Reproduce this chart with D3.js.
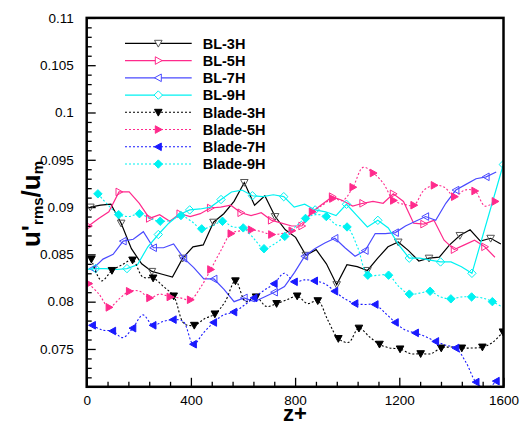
<!DOCTYPE html>
<html>
<head>
<meta charset="utf-8">
<script src="https://cdn.jsdelivr.net/npm/d3@7"></script>
<style>
  body { margin: 0; background: #fff; }
  svg { display: block; font-family: "Liberation Sans", Arial, Helvetica, sans-serif; }
</style>
</head>
<body>
<svg id="chart" width="529" height="426"></svg>
<script>
// ---- data: u'rms/um sampled along z+ ----
const bl3H = [0.0900,0.0902,0.0903,0.0883,0.0856,0.0840,0.0832,0.0829,0.0826,0.0846,
              0.0858,0.0860,0.0884,0.0893,0.0906,0.0926,0.0902,0.0912,0.0890,0.0876,
              0.0868,0.0849,0.0855,0.0840,0.0818,0.0839,0.0837,0.0833,0.0846,0.0858,
              0.0863,0.0854,0.0843,0.0846,0.0847,0.0860,0.0870,0.0876,0.0864,0.0867,
              0.0861];
const bl5H = [0.0880,0.0888,0.0895,0.0916,0.0916,0.0904,0.0888,0.0892,0.0885,0.0893,
              0.0890,0.0893,0.0899,0.0900,0.0902,0.0894,0.0891,0.0894,0.0886,0.0883,
              0.0880,0.0880,0.0895,0.0903,0.0911,0.0907,0.0901,0.0904,0.0906,0.0904,
              0.0914,0.0906,0.0883,0.0882,0.0886,0.0865,0.0855,0.0860,0.0865,0.0858,
              0.0847];
const bl7H = [0.0835,0.0845,0.0850,0.0864,0.0866,0.0874,0.0857,0.0857,0.0861,0.0846,
              0.0836,0.0824,0.0824,0.0813,0.0800,0.0804,0.0800,0.0805,0.0810,0.0816,
              0.0831,0.0848,0.0856,0.0862,0.0867,0.0857,0.0848,0.0854,0.0872,0.0872,
              0.0873,0.0880,0.0885,0.0890,0.0886,0.0904,0.0918,0.0924,0.0930,0.0932,
              0.0937];
const bl9H = [0.0834,0.0835,0.0835,0.0834,0.0835,0.0839,0.0858,0.0871,0.0883,0.0892,
              0.0897,0.0898,0.0900,0.0908,0.0916,0.0918,0.0912,0.0911,0.0913,0.0911,
              0.0900,0.0903,0.0897,0.0895,0.0891,0.0903,0.0891,0.0879,0.0886,0.0878,
              0.0860,0.0846,0.0846,0.0844,0.0842,0.0842,0.0837,0.0830,null,null,
              0.0945];
const blade3H = [0.0845,0.0822,0.0833,0.0839,0.0844,0.0826,0.0825,0.0816,0.0806,0.0777,
                 0.0775,0.0782,0.0787,0.0800,0.0822,0.0800,0.0805,0.0795,0.0798,0.0802,
                 0.0806,0.0798,0.0801,0.0780,0.0761,0.0757,0.0772,0.0763,0.0755,0.0751,
                 0.0750,0.0745,0.0745,0.0745,0.0751,0.0752,0.0751,0.0751,0.0752,0.0757,
                 0.0768];
const blade5H = [0.0819,0.0808,0.0794,0.0803,0.0811,0.0811,0.0804,0.0808,0.0805,0.0804,
                 0.0802,0.0815,0.0834,0.0854,0.0872,0.0875,0.0876,0.0874,0.0871,0.0872,
                 0.0875,0.0883,0.0895,0.0902,0.0909,0.0907,0.0921,0.0942,0.0936,0.0925,
                 0.0907,0.0903,0.0902,0.0918,0.0923,0.0921,0.0911,0.0918,0.0917,0.0901,
                 0.0906];
const blade7H = [0.0775,0.0770,0.0769,0.0762,0.0772,0.0786,0.0775,0.0779,0.0781,0.0779,
                 0.0755,0.0767,0.0778,0.0786,0.0789,0.0796,0.0804,0.0812,0.0819,0.0830,
                 0.0821,0.0823,0.0822,0.0819,0.0811,0.0803,0.0798,0.0797,0.0797,0.0788,
                 0.0778,0.0770,0.0767,0.0763,0.0758,0.0754,0.0751,0.0736,0.0715,0.0708,
                 0.0716];
const blade9H = [0.0914,0.0902,0.0892,0.0890,0.0893,0.0888,0.0885,0.0886,0.0891,0.0885,
                 0.0877,0.0880,0.0885,0.0879,0.0878,0.0867,0.0856,0.0861,0.0869,0.0879,
                 0.0888,0.0892,0.0890,0.0881,0.0879,0.0858,0.0828,0.0828,0.0828,0.0816,
                 0.0808,0.0809,0.0811,0.0805,0.0803,0.0805,0.0805,0.0804,0.0800,0.0794];

const seriesNames = ["BL-3H","BL-5H","BL-7H","BL-9H","Blade-3H","Blade-5H","Blade-7H","Blade-9H"];
const seriesValues = [bl3H, bl5H, bl7H, bl9H, blade3H, blade5H, blade7H, blade9H];
// z+ of the first sample and spacing between samples for each series
const zStart = [14, 7, 24, -6, 18, 8, 22, 43];
const zStep  = [39.4, 39, 38.7, 40.13, 39.5, 39, 38.75, 39.85];
// symbols are drawn on every n-th sample, beginning at the given offset
const symbolEvery  = [3, 3, 3, 3, 2, 2, 2, 2];
const symbolOffset = [0, 0, 0, 1, 0, 0, 0, 0];

const xDomain = [0, 1600];
const yDomain = [0.071, 0.11];
const xTicks = [0, 400, 800, 1200, 1600];
const xTickLabels = ["0", "400", "800", "1200", "1600"];
const xMinorStep = 80;
const yTicks = [0.075, 0.08, 0.085, 0.09, 0.095, 0.1, 0.105, 0.11];
const yTickLabels = ["0.075", "0.08", "0.085", "0.09", "0.095", "0.1", "0.105", "0.11"];
const yMinorStep = 0.001;

// ---- styles ----
const PINK = "#ff2a8c", BLUE_LIGHT = "#4a4aff", BLUE = "#1a1aff", CYAN = "#00f2f2";
const styles = [
  { stroke: "#000", dash: null, symbol: "down", fill: "none", symStroke: "#555", curve: d3.curveLinear },
  { stroke: PINK, dash: null, symbol: "right", fill: "none", symStroke: PINK, curve: d3.curveLinear },
  { stroke: BLUE_LIGHT, dash: null, symbol: "left", fill: "none", symStroke: BLUE_LIGHT, curve: d3.curveLinear },
  { stroke: CYAN, dash: null, symbol: "diamond", fill: "none", symStroke: CYAN, curve: d3.curveLinear },
  { stroke: "#000", dash: "2,2", symbol: "down", fill: "#000", symStroke: "#000", curve: d3.curveCatmullRom.alpha(0.5) },
  { stroke: PINK, dash: "2,2", symbol: "right", fill: PINK, symStroke: PINK, curve: d3.curveCatmullRom.alpha(0.5) },
  { stroke: BLUE, dash: "2,2", symbol: "left", fill: BLUE, symStroke: BLUE, curve: d3.curveCatmullRom.alpha(0.5) },
  { stroke: CYAN, dash: "2,2", symbol: "diamond", fill: CYAN, symStroke: CYAN, curve: d3.curveCatmullRom.alpha(0.5) }
];
const symbolPaths = {
  down: "M-3.8,-3L3.8,-3L0,3.8Z",
  right: "M-3,-3.8L-3,3.8L3.8,0Z",
  left: "M3,-3.8L3,3.8L-3.8,0Z",
  diamond: "M0,-4.2L4.2,0L0,4.2L-4.2,0Z"
};

// ---- layout ----
const W = 529, H = 426;
const plot = { left: 86.7, right: 503.5, top: 17.9, bottom: 386.8 };

const svg = d3.select("#chart");
svg.append("rect").attr("width", W).attr("height", H).attr("fill", "#fff");

const x = d3.scaleLinear().domain(xDomain).range([plot.left, plot.right]);
const y = d3.scaleLinear().domain(yDomain).range([plot.bottom, plot.top]);

svg.append("defs").append("clipPath").attr("id", "plot-clip")
  .append("rect")
  .attr("x", plot.left).attr("y", plot.top)
  .attr("width", plot.right - plot.left).attr("height", plot.bottom - plot.top);

// minor ticks
const xMinor = d3.range(xDomain[0], xDomain[1] + 1e-9, xMinorStep).filter(v => !xTicks.includes(v));
const yMinor = d3.range(0, 40).map(i => +(yDomain[0] + i * yMinorStep).toFixed(4))
  .filter(v => v <= yDomain[1] && !yTicks.some(t => Math.abs(t - v) < 1e-6));

function styleAxis(g) {
  g.select(".domain").remove();
  g.selectAll(".tick line").attr("stroke", "#000").attr("stroke-width", 1.3);
  g.selectAll(".tick text").attr("fill", "#000").attr("font-size", 13.5);
}

svg.append("g").attr("transform", `translate(0,${plot.bottom})`)
  .call(d3.axisBottom(x).tickValues(xMinor).tickSize(-5).tickFormat(""))
  .call(styleAxis);
svg.append("g").attr("transform", `translate(0,${plot.bottom})`)
  .call(d3.axisBottom(x).tickValues(xTicks).tickSize(-9).tickPadding(9)
    .tickFormat((d, i) => xTickLabels[i]))
  .call(styleAxis);
svg.append("g").attr("transform", `translate(${plot.left},0)`)
  .call(d3.axisLeft(y).tickValues(yMinor).tickSize(-5).tickFormat(""))
  .call(styleAxis);
svg.append("g").attr("transform", `translate(${plot.left},0)`)
  .call(d3.axisLeft(y).tickValues(yTicks).tickSize(-9).tickPadding(13)
    .tickFormat((d, i) => yTickLabels[i]))
  .call(styleAxis);

// curves
const layer = svg.append("g").attr("clip-path", "url(#plot-clip)");
seriesValues.forEach((vals, s) => {
  const st = styles[s];
  const pts = vals.map((v, i) => ({ z: zStart[s] + i * zStep[s], v, i }))
    .filter(d => d.v !== null);
  const line = d3.line().x(d => x(d.z)).y(d => y(d.v)).curve(st.curve);
  layer.append("path").datum(pts)
    .attr("d", line)
    .attr("fill", "none")
    .attr("stroke", st.stroke)
    .attr("stroke-width", st.dash ? 1.1 : 1.2)
    .attr("stroke-dasharray", st.dash);
  layer.selectAll(null)
    .data(pts.filter(d => (d.i - symbolOffset[s]) % symbolEvery[s] === 0))
    .join("path")
    .attr("transform", d => `translate(${x(d.z)},${y(d.v)})`)
    .attr("d", symbolPaths[st.symbol])
    .attr("fill", st.fill)
    .attr("stroke", st.symStroke)
    .attr("stroke-width", 1);
});

// frame
svg.append("rect")
  .attr("x", plot.left).attr("y", plot.top)
  .attr("width", plot.right - plot.left).attr("height", plot.bottom - plot.top)
  .attr("fill", "none").attr("stroke", "#000").attr("stroke-width", 2.5);

// legend
const legend = svg.append("g");
const legX0 = 125, legX1 = 191.7, legSym = 158.3, legText = 202.7, legY0 = 43.3, legDy = 17.25;
seriesNames.forEach((name, s) => {
  const st = styles[s];
  const yy = legY0 + s * legDy;
  legend.append("line")
    .attr("x1", legX0).attr("x2", legX1).attr("y1", yy).attr("y2", yy)
    .attr("stroke", st.stroke).attr("stroke-width", st.dash ? 1.1 : 1.2)
    .attr("stroke-dasharray", st.dash);
  legend.append("path")
    .attr("transform", `translate(${legSym},${yy})`)
    .attr("d", symbolPaths[st.symbol])
    .attr("fill", st.fill === "none" ? "#fff" : st.fill)
    .attr("stroke", st.symStroke).attr("stroke-width", 1);
  legend.append("text")
    .attr("x", legText).attr("y", yy + 5.2)
    .attr("font-size", 14.5).attr("font-weight", "bold").attr("fill", "#000")
    .text(name);
});

// axis titles
svg.append("text")
  .attr("x", 295).attr("y", 421)
  .attr("text-anchor", "middle")
  .attr("font-size", 22).attr("font-weight", "bold")
  .text("z+");

const yTitle = svg.append("text")
  .attr("transform", "translate(40,204) rotate(-90)")
  .attr("text-anchor", "middle")
  .attr("font-size", 26).attr("font-weight", "bold");
yTitle.append("tspan").text("u'");
yTitle.append("tspan").attr("font-size", 15).attr("dy", 3).text("rms");
yTitle.append("tspan").attr("dy", -3).text("/u");
yTitle.append("tspan").attr("font-size", 15).attr("dy", 3).text("m");
</script>
</body>
</html>
